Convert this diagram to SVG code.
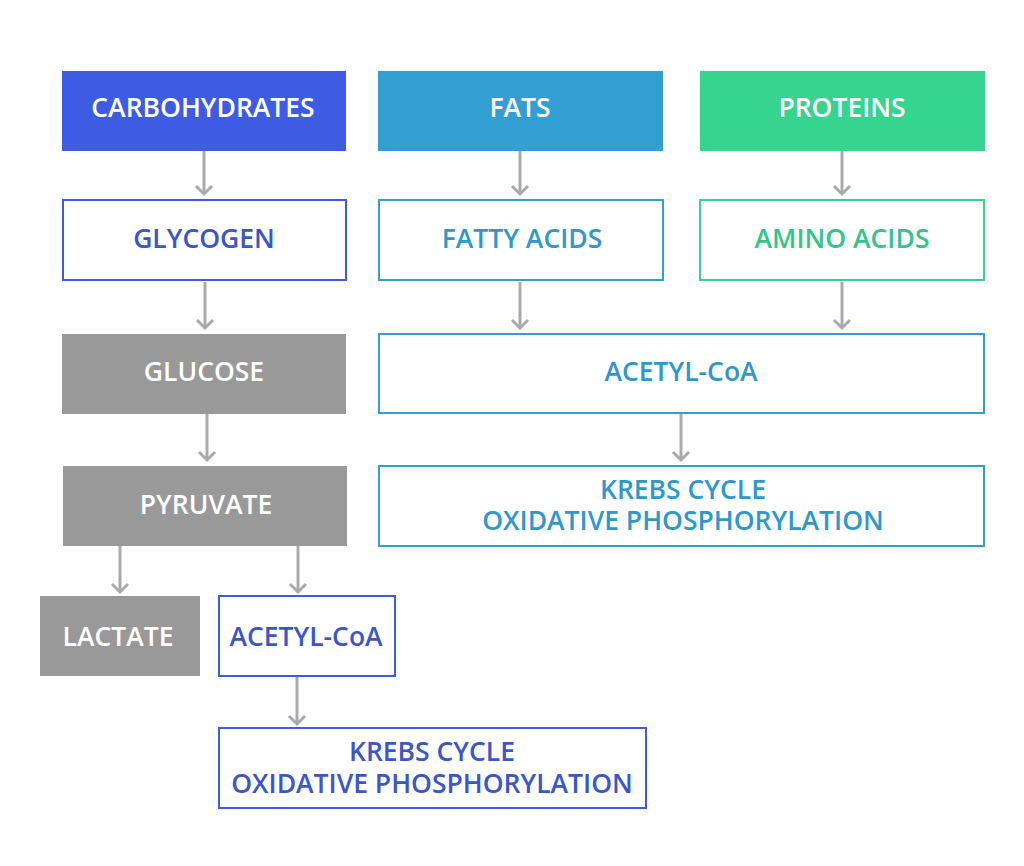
<svg xmlns="http://www.w3.org/2000/svg" width="1024" height="866" viewBox="0 0 1024 866">
<defs>
<style>
text{font-family:"Open Sans","Liberation Sans",sans-serif;font-size:26.5px;font-weight:600;text-anchor:middle}
.w{fill:#ffffff}
.cb{fill:#3a56cc}
.fb{fill:#2f98cb}
.pb{fill:#33c48c}
.ob{fill:#fff;stroke-width:2}
.conn line{stroke:#aaaaaa;stroke-width:3;fill:none}
.conn path{stroke:#aaaaaa;stroke-width:3;fill:none}
</style>
</defs>
<rect width="1024" height="866" fill="#ffffff"/>
<g id="carbohydrates"><rect x="62" y="71" width="284" height="80" fill="#3d5ce3"/><text class="w" x="203" y="117">CARBOHYDRATES</text></g>
<g id="fats"><rect x="378" y="71" width="285" height="80" fill="#329fd3"/><text class="w" x="520" y="117">FATS</text></g>
<g id="proteins"><rect x="700" y="71" width="285" height="80" fill="#35d48f"/><text class="w" x="842" y="117">PROTEINS</text></g>
<g id="glycogen"><rect class="ob" x="63" y="200" width="283" height="80" stroke="#3d5ce3"/><text class="cb" x="204" y="248">GLYCOGEN</text></g>
<g id="fatty-acids"><rect class="ob" x="379" y="200" width="284" height="80" stroke="#329fd3"/><text class="fb" x="522" y="248">FATTY ACIDS</text></g>
<g id="amino-acids"><rect class="ob" x="700" y="200" width="284" height="80" stroke="#35d48f"/><text class="pb" x="842" y="248">AMINO ACIDS</text></g>
<g id="glucose"><rect x="62" y="334" width="284" height="80" fill="#999999"/><text class="w" x="204" y="381">GLUCOSE</text></g>
<g id="acetyl-coa-fat"><rect class="ob" x="379" y="334" width="605" height="79" stroke="#329fd3"/><text class="fb" x="681" y="381">ACETYL-CoA</text></g>
<g id="pyruvate"><rect x="63" y="466" width="284" height="80" fill="#999999"/><text class="w" x="206" y="514">PYRUVATE</text></g>
<g id="krebs-fat"><rect class="ob" x="379" y="466" width="605" height="80" stroke="#329fd3"/><text class="fb"><tspan x="683" y="499">KREBS CYCLE</tspan><tspan x="683" y="530">OXIDATIVE PHOSPHORYLATION</tspan></text></g>
<g id="lactate"><rect x="40" y="596" width="160" height="80" fill="#999999"/><text class="w" x="118" y="646">LACTATE</text></g>
<g id="acetyl-coa-carb"><rect class="ob" x="219" y="596" width="176" height="80" stroke="#3d5ce3"/><text class="cb" x="306" y="646">ACETYL-CoA</text></g>
<g id="krebs-carb"><rect class="ob" x="219" y="728" width="427" height="80" stroke="#3d5ce3"/><text class="cb"><tspan x="432" y="761">KREBS CYCLE</tspan><tspan x="432" y="793">OXIDATIVE PHOSPHORYLATION</tspan></text></g>
<g class="conn" id="connectors">
<line x1="204" y1="151" x2="204" y2="194"/><path d="M196 186 L204 194 L212 186"/>
<line x1="520" y1="151" x2="520" y2="194"/><path d="M512 186 L520 194 L528 186"/>
<line x1="842" y1="151" x2="842" y2="194"/><path d="M834 186 L842 194 L850 186"/>
<line x1="205" y1="282" x2="205" y2="328"/><path d="M197 320 L205 328 L213 320"/>
<line x1="520" y1="282" x2="520" y2="328"/><path d="M512 320 L520 328 L528 320"/>
<line x1="842" y1="282" x2="842" y2="328"/><path d="M834 320 L842 328 L850 320"/>
<line x1="207" y1="414" x2="207" y2="460"/><path d="M199 452 L207 460 L215 452"/>
<line x1="681" y1="414" x2="681" y2="460"/><path d="M673 452 L681 460 L689 452"/>
<line x1="120" y1="546" x2="120" y2="592"/><path d="M112 584 L120 592 L128 584"/>
<line x1="298" y1="546" x2="298" y2="592"/><path d="M290 584 L298 592 L306 584"/>
<line x1="297" y1="677" x2="297" y2="724"/><path d="M289 716 L297 724 L305 716"/>
</g>
</svg>
